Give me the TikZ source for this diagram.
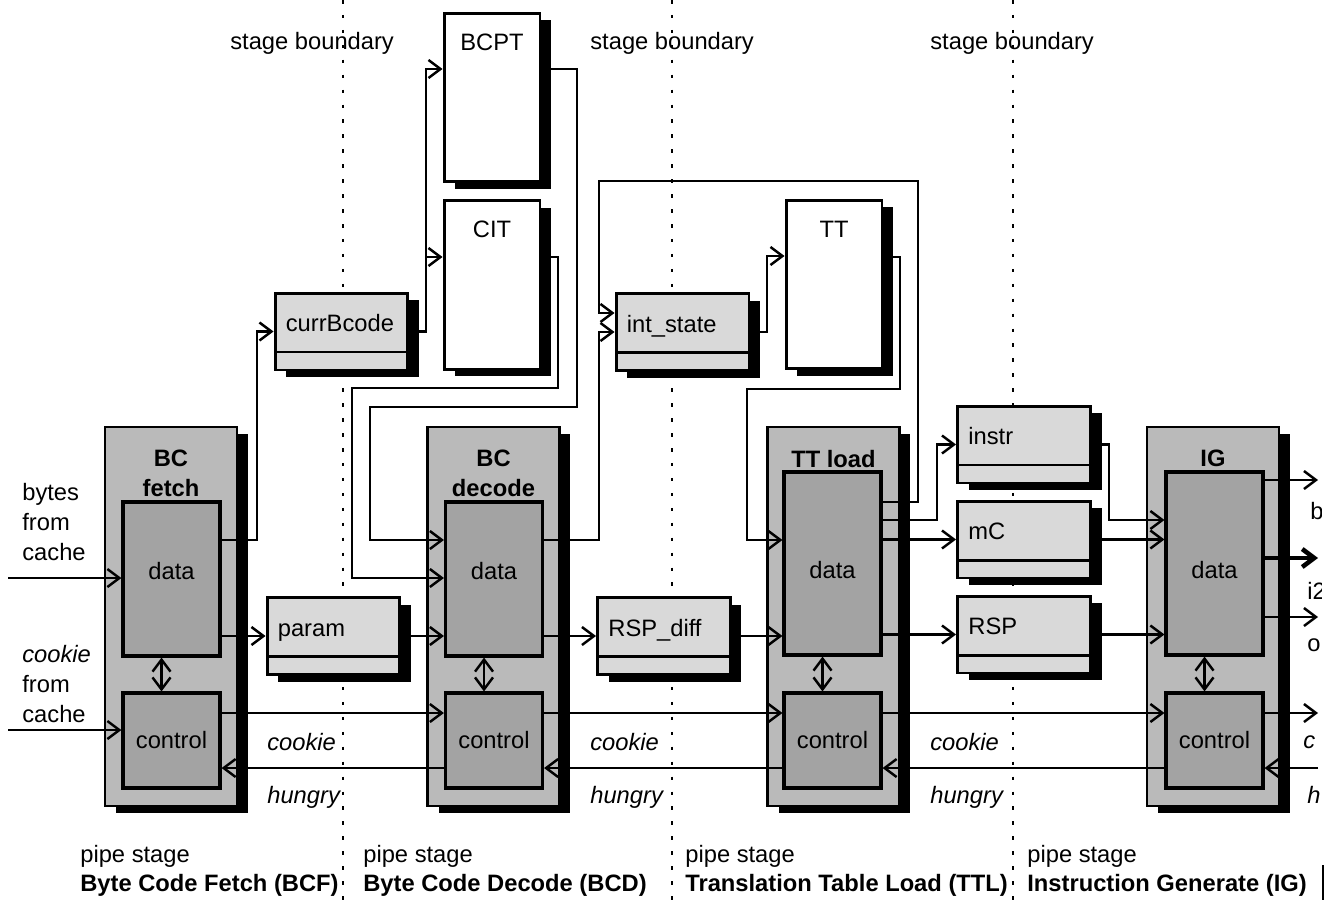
\documentclass[tikz,border=0pt]{standalone}
\usepackage{fontspec}
\setmainfont{Liberation Sans}
\usetikzlibrary{arrows.meta,shadows}
\newcommand{\figfont}{\fontsize{13.5}{17}\selectfont}

\tikzset{
  conn/.style={line width=1.4pt},
  boundary/.style={line width=0.9pt, dash pattern=on 2pt off 6.5pt},
  blackshadow/.style={drop shadow={shadow xshift=0.22cm, shadow yshift=-0.14cm, fill=black, opacity=1}},
  stagebox/.style={draw, line width=1.3pt, fill=black!27, minimum width=2.64cm,
    minimum height=7.58cm, inner sep=0pt, blackshadow,
    label={[anchor=north, yshift=-0.48cm, inner sep=0pt, align=center, font=\figfont\bfseries]north:#1}},
  unitbox/.style={draw, line width=1.8pt, fill=black!36, minimum width=1.94cm, inner sep=0pt},
  databox/.style={unitbox, minimum height=3.08cm, text height=1.2ex, text depth=1.2ex},
  tallbox/.style={unitbox, minimum height=3.66cm, text height=19pt, text depth=1.4pt},
  ctrlbox/.style={unitbox, minimum height=1.9cm},
  regbox/.style={draw, line width=1.7pt, fill=black!15, minimum width=2.66cm,
    minimum height=1.54cm, inner sep=0pt, blackshadow,
    path picture={\draw[line width=1.7pt]
      ([yshift=0.36cm]path picture bounding box.south west) --
      ([yshift=0.36cm]path picture bounding box.south east);},
    label={[anchor=base west, xshift=0.24cm, inner sep=0pt]west:#1}},
  membox/.style={draw, line width=1.7pt, fill=white, minimum width=1.92cm,
    minimum height=3.38cm, inner sep=0pt, blackshadow,
    label={[anchor=north, yshift=-0.44cm, inner sep=0pt]north:#1}},
  txt/.style={anchor=base west, inner sep=0pt},
}

\begin{document}
\begin{tikzpicture}[x=0.02cm, y=-0.02cm, font=\figfont,
  >={Straight Barb[length=2.4mm, width=3.6mm]}]
\useasboundingbox (0,0) rectangle (1338,900);

% stage boundaries
\draw[boundary] (343,0) -- (343,900);
\draw[boundary] (672,0) -- (672,900);
\draw[boundary] (1013,0) -- (1013,900);
\draw[line width=1pt] (1323,865) -- (1323,900);

\node[txt] (sb1) at (230,49) {stage boundary};
\node[txt] (sb2) at (590,49) {stage boundary};
\node[txt] (sb3) at (930,49) {stage boundary};

% pipe stages
\node[stagebox={BC\\fetch}] (fetch) at (171,616.5) {};
\node[databox] (fdata) at (171.5,579) {data};
\node[ctrlbox] (fctrl) at (171.5,740.5) {control};

\node[stagebox={BC\\decode}] (decode) at (493.5,616.5) {};
\node[databox] (ddata) at (494,579) {data};
\node[ctrlbox] (dctrl) at (494,740.5) {control};

\node[stagebox={TT load}] (ttload) at (833.5,616.5) {};
\node[tallbox] (tdata) at (832.5,563.5) {data};
\node[ctrlbox] (tctrl) at (832.5,740.5) {control};

\node[stagebox={IG}] (ig) at (1213,616.5) {};
\node[tallbox] (gdata) at (1214.5,563.5) {data};
\node[ctrlbox] (gctrl) at (1214.5,740.5) {control};

% registers and tables
\node[regbox=currBcode] (currbcode) at (341.5,331.5) {};
\node[regbox=param] (param) at (333.5,636) {};
\node[regbox=int\_state] (intstate) at (682.5,332) {};
\node[regbox=RSP\_diff] (rspdiff) at (664,636) {};
\node[regbox=instr] (instr) at (1024,444.5) {};
\node[regbox=mC] (mc) at (1024,539.5) {};
\node[regbox=RSP] (rsp) at (1024,634.5) {};

\node[membox=BCPT] (bcpt) at (492,97.5) {};
\node[membox=CIT] (cit) at (492,285) {};
\node[membox=TT] (tt) at (834,284.5) {};

% data paths
\coordinate (bytesin) at (8,578);
\coordinate (cookiein) at (8,730);
\draw[conn,->] (bytesin) -- (fdata.west |- bytesin);
\draw[conn,->] (fdata.east |- 0,540) -- (257,540) |- (currbcode.west);
\draw[conn,->] (currbcode.east) -- (426,331.5) |- (bcpt.west |- 0,69);
\draw[conn,->] (currbcode.east) -- (426,331.5) |- (cit.west |- 0,257);
\draw[conn,->] (bcpt.east |- 0,69) -- (577,69) |- (370,407) |- (ddata.west |- 0,540);
\draw[conn,->] (cit.east |- 0,257) -- (558,257) |- (352,388) |- (ddata.west |- 0,578);
\draw[conn,->] (fdata.east |- param.west) -- (param.west);
\draw[conn,->] (param.east) -- (ddata.west |- param.east);
\draw[conn,->] (ddata.east |- 0,540) -- (599,540) |- (intstate.west);
\draw[conn,->] (tdata.east |- 0,502) -- (918,502) |- (599,181) |- (intstate.west |- 0,313);
\draw[conn,->] (intstate.east) -- (767,332) |- (tt.west |- 0,256);
\draw[conn,->] (tt.east |- 0,257) -- (900,257) |- (747,389) |- (tdata.west |- 0,540);
\draw[conn,->] (ddata.east |- rspdiff.west) -- (rspdiff.west);
\draw[conn,->] (rspdiff.east) -- (tdata.west |- rspdiff.east);
\draw[conn,->] (tdata.east |- 0,520) -- (937,520) |- (instr.west);
\draw[conn,->] (tdata.east |- mc.west) -- (mc.west);
\draw[conn,->] (tdata.east |- rsp.west) -- (rsp.west);
\draw[conn,->] (instr.east) -- (1109,444.5) |- (gdata.west |- 0,520);
\draw[conn,->] (mc.east) -- (gdata.west |- mc.east);
\draw[conn,->] (rsp.east) -- (gdata.west |- rsp.east);

% outputs of IG
\coordinate (outb) at (1318,480);
\coordinate (outi) at (1318,558);
\coordinate (outo) at (1318,617);
\coordinate (outc) at (1318,713);
\coordinate (inh) at (1318,768);
\draw[conn,->] (gdata.east |- outb) -- (outb);
\draw[conn,line width=2.6pt,->] (gdata.east |- outi) -- (outi);
\draw[conn,->] (gdata.east |- outo) -- (outo);

% handshake
\draw[conn,->] (cookiein) -- (fctrl.west |- cookiein);
\draw[conn,->] (fctrl.east |- 0,713) -- (dctrl.west |- 0,713);
\draw[conn,->] (dctrl.west |- 0,768) -- (fctrl.east |- 0,768);
\draw[conn,->] (dctrl.east |- 0,713) -- (tctrl.west |- 0,713);
\draw[conn,->] (tctrl.west |- 0,768) -- (dctrl.east |- 0,768);
\draw[conn,->] (tctrl.east |- 0,713) -- (gctrl.west |- 0,713);
\draw[conn,->] (gctrl.west |- 0,768) -- (tctrl.east |- 0,768);
\draw[conn,->] (gctrl.east |- outc) -- (outc);
\draw[conn,->] (inh) -- (gctrl.east |- inh);

\draw[conn,<->] ([xshift=-0.2cm]fdata.south) -- ([xshift=-0.2cm]fctrl.north);
\draw[conn,<->] ([xshift=-0.2cm]ddata.south) -- ([xshift=-0.2cm]dctrl.north);
\draw[conn,<->] ([xshift=-0.2cm]tdata.south) -- ([xshift=-0.2cm]tctrl.north);
\draw[conn,<->] ([xshift=-0.2cm]gdata.south) -- ([xshift=-0.2cm]gctrl.north);

% labels
\node[anchor=north west, align=left, inner sep=0pt] (bytes) at (22,483) {bytes\\from\\cache};
\node[anchor=north west, align=left, inner sep=0pt] (cookiesrc) at (22,645) {\textit{cookie}\\from\\cache};
\node[txt] (ck1) at (267,750) {\textit{cookie}};
\node[txt] (ck2) at (590,750) {\textit{cookie}};
\node[txt] (ck3) at (930,750) {\textit{cookie}};
\node[txt] (hg1) at (267,803) {\textit{hungry}};
\node[txt] (hg2) at (590,803) {\textit{hungry}};
\node[txt] (hg3) at (930,803) {\textit{hungry}};

\begin{scope}
\clip (0,0) rectangle (1321,900);
\node[txt] (lb) at (1310,519) {b};
\node[txt] (li) at (1307,599) {i2};
\node[txt] (lo) at (1307,651) {o};
\node[txt] (lc) at (1303,748) {\textit{c}};
\node[txt] (lh) at (1307,803) {\textit{h}};
\end{scope}

\node[txt] (ps1) at (80,862) {pipe stage};
\node[txt] (bcf) at (80,891) {\textbf{Byte Code Fetch (BCF)}};
\node[txt] (ps2) at (363,862) {pipe stage};
\node[txt] (bcd) at (363,891) {\textbf{Byte Code Decode (BCD)}};
\node[txt] (ps3) at (685,862) {pipe stage};
\node[txt] (ttl) at (685,891) {\textbf{Translation Table Load (TTL)}};
\node[txt] (ps4) at (1027,862) {pipe stage};
\node[txt] (igl) at (1027,891) {\textbf{Instruction Generate (IG)}};
\end{tikzpicture}
\end{document}
